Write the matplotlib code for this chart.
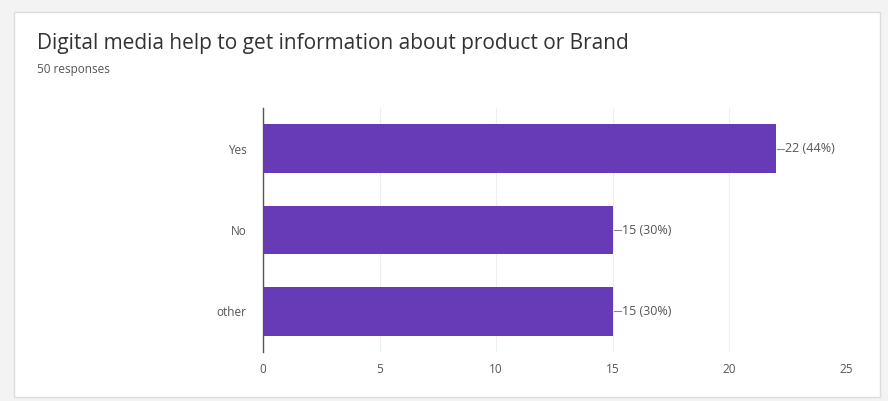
import matplotlib.pyplot as plt
from matplotlib.patches import Rectangle

# survey results
categories = ["Yes", "No", "other"]
counts = [22, 15, 15]
total_responses = 50
x_ticks = [0, 5, 10, 15, 20, 25]

BAR_COLOR = "#673ab7"
TEXT_COLOR = "#555555"

plt.rcParams["font.family"] = ["Open Sans", "DejaVu Sans"]

fig = plt.figure(figsize=(8.88, 4.01), dpi=100, facecolor="#f3f3f3")

# white card behind the chart
card = Rectangle((14 / 888, 4 / 401), 866 / 888, 385 / 401, transform=fig.transFigure,
                 facecolor="white", edgecolor="#dcdcdc", linewidth=1.0, zorder=-10)
fig.patches.append(card)

ax = fig.add_axes([263 / 888, 49 / 401, 583 / 888, 244 / 401])
ax.set_zorder(2)
ax.set_facecolor("white")

y_pos = list(range(len(categories)))
ax.barh(y_pos, counts, height=0.6, color=BAR_COLOR, zorder=2)

# count + percentage labels with a short leader line
for y, c in zip(y_pos, counts):
    ax.plot([c + 0.05, c + 0.35], [y, y], color="#888888", lw=0.8, zorder=2)
    ax.text(c + 0.38, y, f"{c} ({c / total_responses:.0%})", va="center", ha="left",
            fontsize=9, color=TEXT_COLOR)

ax.set_xlim(0, 25)
ax.set_ylim(2.5, -0.5)
ax.set_xticks(x_ticks)
ax.set_xticklabels([str(t) for t in x_ticks], fontsize=8.5, color=TEXT_COLOR)
ax.set_yticks(y_pos)
ax.set_yticklabels(categories, fontsize=8.5, color=TEXT_COLOR)
ax.tick_params(axis="both", length=0, pad=12)
ax.tick_params(axis="x", pad=8)

ax.grid(axis="x", color="#eeeeee", lw=0.8, zorder=0)
for side in ["top", "right", "bottom"]:
    ax.spines[side].set_visible(False)
ax.spines["left"].set_color("#555555")
ax.spines["left"].set_linewidth(1.0)

fig.text(37 / 888, 1 - 43 / 401, "Digital media help to get information about product or Brand",
         fontsize=15, color="#333333", va="center", ha="left")
fig.text(37 / 888, 1 - 70 / 401, f"{total_responses} responses",
         fontsize=8.5, color="#555555", va="center", ha="left")

fig.savefig("out.png", dpi=100, facecolor=fig.get_facecolor())
